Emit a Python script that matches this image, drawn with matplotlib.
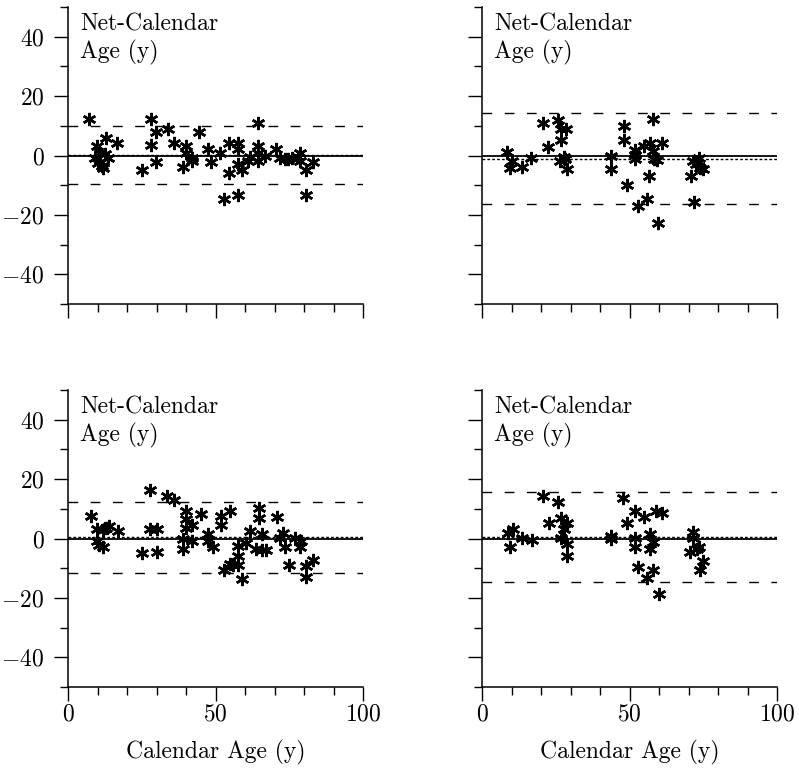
import matplotlib
matplotlib.use("Agg")
import matplotlib.pyplot as plt
from matplotlib.ticker import MultipleLocator

plt.rcParams['font.family'] = 'cmr10'
plt.rcParams['mathtext.fontset'] = 'cm'
plt.rcParams['axes.formatter.use_mathtext'] = True

# calendar age vs (net - calendar) age, one pair of lists per panel
age_a = [7.2, 9.7, 9.2, 10.3, 11.4, 11.8, 12.5, 12.9, 13.7, 16.5, 10.7, 25.0, 28.0, 28.0, 29.8, 29.8,
         34.0, 35.9, 38.9, 40.0, 40.0, 41.9, 41.9, 44.5, 47.6, 48.4, 51.5, 52.9, 54.7, 54.7, 57.7,
         57.7, 57.7, 57.7, 58.9, 61.1, 61.7, 64.5, 64.5, 64.5, 64.5, 66.8, 70.5, 71.9, 73.6, 74.7,
         76.0, 78.1, 78.6, 78.6, 80.7, 80.7, 82.9]
diff_a = [12.2, 3.2, -0.8, -2.5, -3.6, -4.2, 0.5, 6.0, -0.8, 4.1, 0.7, -5.0, 12.2, 3.7, 7.9, -2.3,
          9.0, 4.1, -3.8, 3.2, 0.9, -0.8, -2.0, 7.9, 2.3, -2.3, 0.7, -14.6, 4.1, -5.9, 4.1,
          2.3, -3.0, -13.2, -5.0, -2.0, -0.5, 11.0, 3.2, 0.9, -2.0, 0.0, 2.3, -0.8, -1.2, -1.2,
          -1.0, -0.5, 0.8, -2.0, -5.0, -13.2, -2.3]

age_b = [20.8, 25.6, 26.8, 28.4, 26.8, 22.5, 8.6, 10.3, 9.5, 13.4, 16.6, 26.5, 27.9, 28.1, 28.7,
         43.7, 43.7, 48.1, 48.0, 49.0, 51.9, 51.9, 52.0, 52.8, 54.9, 55.8, 56.9, 56.7, 58.1, 58.1,
         58.2, 59.2, 60.9, 59.8, 70.8, 71.6, 71.9, 72.5, 73.6, 73.9, 75.0]
diff_b = [11.0, 11.9, 9.0, 9.0, 5.2, 2.9, 1.1, -1.9, -4.2, -3.9, -0.9, -1.9, -0.4, -1.1, -4.7,
          0.0, -4.7, 9.9, 5.2, -10.1, 2.0, 0.3, -1.1, -16.9, 3.2, -14.6, 4.1, -7.0, 12.2, 1.5,
          -1.1, -1.4, 4.3, -22.7, -7.0, -1.9, -15.8, -3.0, -0.9, -4.2, -4.5]

age_c = [7.8, 9.7, 11.8, 12.9, 14.0, 9.7, 10.6, 11.8, 17.1, 25.0, 27.8, 27.8, 30.3, 30.3, 33.7,
         35.9, 40.0, 40.0, 40.0, 41.9, 39.1, 39.1, 41.9, 45.0, 47.6, 47.6, 49.3, 51.8, 51.8, 54.9,
         52.9, 54.9, 57.7, 57.7, 57.7, 56.0, 58.9, 60.4, 61.7, 63.7, 64.9, 64.9, 65.6, 65.6, 67.1,
         70.7, 71.9, 72.8, 73.6, 75.0, 77.0, 78.6, 78.9, 80.7, 80.7, 82.9]
diff_c = [7.6, 3.1, 3.0, 3.4, 4.2, -0.9, -2.2, -2.8, 2.5, -4.9, 16.4, 3.1, 3.1, -4.7, 14.3,
          13.0, 9.3, 6.4, 3.6, 4.7, -0.3, -3.7, -0.9, 8.1, 1.4, -0.9, -2.8, 7.6, 4.4, 9.3,
          -10.5, -8.5, -2.4, -6.0, -8.8, -8.8, -13.7, -1.5, 2.5, -3.5, 10.4, 7.0, 1.4, -3.8, -3.8,
          7.3, 0.2, 1.7, -2.8, -8.8, 0.2, -2.8, -0.9, -9.2, -13.0, -7.3]

age_d = [20.8, 25.7, 22.7, 26.8, 28.7, 27.9, 26.8, 28.7, 28.7, 8.7, 10.6, 9.5, 13.7, 16.8, 43.7,
         43.7, 47.9, 49.0, 51.9, 51.9, 52.0, 52.8, 55.0, 55.8, 56.9, 56.9, 58.1, 58.1, 58.9, 61.1,
         60.0, 71.6, 71.6, 70.5, 72.8, 73.6, 73.9, 75.0]
diff_d = [14.3, 12.3, 5.3, 7.0, 5.3, 3.3, 0.2, -1.7, -5.8, 1.9, 3.3, -2.8, 0.2, -0.6, 1.0,
          -0.1, 13.8, 5.3, 9.3, 0.2, -2.8, -9.6, 7.3, -13.3, 1.4, -3.7, -1.2, -10.7, 9.3, 8.5,
          -18.6, 2.1, 0.2, -4.6, -3.7, -2.8, -10.5, -7.7]

# mean difference and the +/- 2 SD limits
means = [0.2, -1.3, 0.4, 0.4]
upper = [9.9, 14.2, 12.4, 15.5]
lower = [-9.6, -16.2, -11.6, -14.5]

ages = [age_a, age_b, age_c, age_d]
diffs = [diff_a, diff_b, diff_c, diff_d]

FS = 17

fig = plt.figure(figsize=(7.99, 7.72), dpi=100)
W, H = 799.0, 772.0
lefts = [68, 482, 68, 482]
bottoms = [304, 304, 687, 687]

for i in range(4):
    ax = fig.add_axes([lefts[i] / W, 1 - bottoms[i] / H, 295 / W, 297 / H])
    ax.set_xlim(0, 100)
    ax.set_ylim(-50, 50)
    for s in ['top', 'right']:
        ax.spines[s].set_visible(False)
    for s in ['left', 'bottom']:
        ax.spines[s].set_linewidth(1.1)

    ax.axhline(0, color='black', lw=1.3)
    ax.axhline(means[i], color='black', lw=1.0, linestyle=(0, (2, 1.5)))
    ax.axhline(upper[i], color='black', lw=1.0, linestyle=(0, (7, 9)))
    ax.axhline(lower[i], color='black', lw=1.0, linestyle=(0, (7, 9)))

    ax.plot(ages[i], diffs[i], linestyle='none', marker=(6, 2, 0), markersize=9.5,
            markeredgewidth=1.8, color='black')

    ax.xaxis.set_major_locator(MultipleLocator(50))
    ax.xaxis.set_minor_locator(MultipleLocator(10))
    ax.yaxis.set_major_locator(MultipleLocator(20))
    ax.yaxis.set_minor_locator(MultipleLocator(10))
    ax.tick_params(which='major', length=10, width=1.0, labelsize=FS)
    ax.tick_params(which='minor', length=6, width=1.0)
    ax.tick_params(axis='x', pad=2)
    ax.tick_params(axis='y', pad=7)

    if i in (1, 3):
        ax.tick_params(axis='y', labelleft=False)
    if i in (0, 1):
        ax.tick_params(axis='x', labelbottom=False)
    else:
        ax.set_xlabel('Calendar Age (y)', fontsize=FS, labelpad=10)

    ax.text(0.041, 0.920, 'Net-Calendar', transform=ax.transAxes, fontsize=FS,
            va='baseline', ha='left')
    ax.text(0.041, 0.828, 'Age (y)', transform=ax.transAxes, fontsize=FS,
            va='baseline', ha='left')

fig.savefig('out.png', dpi=100)
